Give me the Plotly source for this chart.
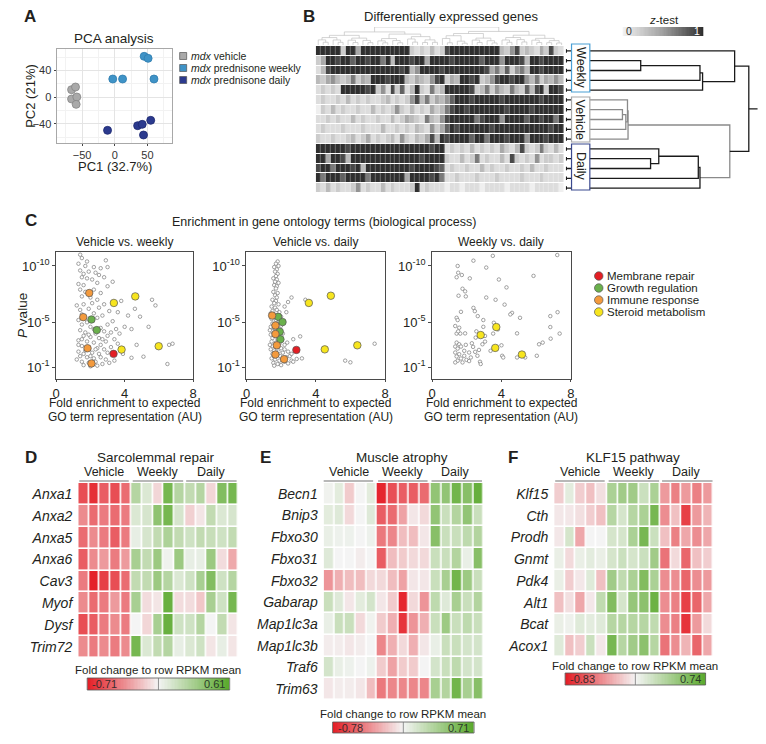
import plotly.graph_objects as go

W, H = 766, 744
OFF = 8  # the page body adds an 8 px margin; the figure is shifted by it
FW, FH = W - OFF, H - OFF
FONT = "Liberation Sans, Arial, Helvetica, sans-serif"
INK = "#231f20"

# ---------------- Panel A : PCA ----------------
vehicle_pc1 = [-66, -60, -66, -58, -59]
vehicle_pc2 = [11, 15, -3, 0, -11]
weekly_pc1 = [45, 51, -3, 12, 60]
weekly_pc2 = [61, 58, 27, 27, 27]
daily_pc1 = [-11, 35, 42, 55, 44]
daily_pc2 = [-50, -43, -41, -35, -57]
pca_labels = ["<i>mdx</i> vehicle", "<i>mdx</i> prednisone weekly", "<i>mdx</i> prednisone daily"]

# ---------------- Panel B : DEG heatmap (z-test, 0-9 => 0-1) ----------------
deg_groups = ["Weekly", "Vehicle", "Daily"]
deg_digits = [
    "9 9 9 9 9 2 9 9 4 9 9 9 9 9 9 9 9 9 9 2 1 2 1 3 1 2 8 9 9 9 9 9 9 9 9 9 9 3 2 5 8 2 3 2 1 4 2 8 2 1",
    "2 4 9 9 8 9 9 7 9 9 8 9 9 6 9 3 9 9 9 8 9 9 4 9 9 9 9 8 9 9 9 9 9 7 9 9 9 5 9 9 9 8 3 9 9 8 9 9 9 9",
    "1 3 8 9 9 9 9 9 9 9 9 9 9 9 9 9 9 8 9 3 5 9 9 9 9 8 9 9 9 9 9 9 9 9 8 4 6 3 7 2 5 6 3 9 9 8 9 9 9 9",
    "3 2 4 5 3 2 3 6 2 4 3 9 9 9 8 9 9 9 3 2 4 3 2 5 8 9 2 4 3 9 9 8 9 2 3 5 8 9 9 8 9 9 5 3 6 2 4 3 5 3",
    "1 2 1 2 1 9 9 9 9 9 8 9 2 5 1 8 2 7 1 3 9 2 1 6 2 3 9 9 9 9 9 8 2 3 6 2 5 3 2 6 3 2 7 3 8 9 2 9 9 8",
    "1 2 1 1 2 1 3 1 2 1 2 1 1 2 3 1 2 1 2 5 8 3 6 2 4 3 5 7 9 9 9 8 9 9 9 9 9 8 9 9 9 9 9 9 9 8 9 9 9 9",
    "0 2 1 3 1 2 1 1 2 1 1 3 1 2 1 2 5 2 1 3 1 2 1 4 2 3 6 8 9 9 8 9 9 9 9 9 9 9 8 9 9 9 9 8 9 9 9 9 9 9",
    "1 1 2 1 2 1 1 3 1 2 1 1 2 1 1 3 1 2 4 3 2 1 6 3 2 5 8 9 9 9 9 9 6 8 9 9 9 5 9 9 9 9 7 9 9 8 9 9 6 9",
    "1 2 1 1 1 2 1 1 1 2 1 1 1 3 1 1 2 1 2 1 3 2 1 5 2 4 7 9 8 9 9 9 9 9 9 8 9 9 9 9 9 9 9 9 9 9 9 8 9 9",
    "2 1 1 2 1 1 2 3 1 2 4 1 2 1 2 3 1 5 2 1 3 2 4 8 3 9 8 9 9 9 9 7 9 9 6 9 9 9 8 9 9 9 5 9 9 9 8 9 9 9",
    "9 9 9 9 9 9 8 9 9 9 9 9 9 9 9 9 9 9 9 9 9 9 9 8 9 9 1 2 1 2 1 3 1 2 1 2 1 4 2 1 3 8 2 1 2 6 2 1 3 1",
    "9 9 4 9 9 8 3 9 9 9 9 9 9 9 9 9 9 9 9 9 9 8 9 9 9 9 2 1 1 3 1 2 6 1 2 1 1 3 1 8 2 1 2 1 5 1 2 2 1 2",
    "8 9 9 6 9 9 9 8 9 3 9 9 9 9 9 9 9 9 9 8 9 9 9 9 8 7 1 2 1 1 2 1 1 3 1 2 1 1 2 1 1 2 1 3 1 1 2 1 1 1",
    "9 6 9 9 9 7 9 9 9 9 6 9 9 9 9 9 9 9 4 9 9 9 9 8 9 6 1 1 2 1 1 1 2 1 1 1 2 1 1 1 1 2 1 1 1 2 1 1 1 1",
    "2 1 3 1 2 1 1 2 5 1 2 1 1 3 1 2 1 1 1 2 9 1 2 1 1 1 0 1 1 0 1 1 1 0 1 1 1 1 0 1 1 1 1 0 1 1 1 1 1 0",
]
# sample dendrogram linkage: (node a, node b, merge distance); merge k creates node 15+k
row_linkage = [
    (1, 2, 0.372), (15, 3, 0.690), (16, 4, 0.704), (17, 0, 0.876),
    (6, 7, 0.274), (19, 8, 0.292), (20, 5, 0.301), (21, 9, 0.304),
    (11, 12, 0.425), (23, 10, 0.469), (24, 13, 0.681), (25, 14, 0.690),
    (22, 26, 0.850), (18, 27, 0.952),
]
row_linkage_grey = [False, False, False, False, True, True, True, True,
                    False, False, False, False, True, False]

# ---------------- Panel C : GO enrichment (x = fold enrichment, y = -log10 P) ----------------
go_categories = ["Membrane repair", "Growth regulation", "Immune response", "Steroid metabolism"]
go_colors = ["#e31e24", "#6ab04c", "#f39a3d", "#f7e51e"]

c1_grey = [(1.4,11.0),(1.5,10.7),(1.8,10.4),(2.9,10.5),(1.3,10.2),(1.7,10.0),(2.2,9.9),(2.6,9.8),(3.0,9.9),
    (1.4,9.6),(1.6,9.3),(1.9,9.5),(2.3,9.4),(2.5,9.2),(1.5,9.0),(1.8,8.9),(2.1,8.8),(2.8,9.0),(3.3,8.6),
    (1.3,8.4),(1.6,8.3),(2.4,8.5),(3.0,8.2),(1.4,7.9),(1.7,7.7),(2.2,7.9),(2.6,7.6),(1.5,7.3),(2.0,7.2),
    (2.4,7.0),(1.2,6.5),(1.6,6.6),(2.1,6.7),(2.8,6.6),(3.8,6.9),(5.6,7.0),(5.8,6.5),(1.4,6.1),(1.9,6.2),
    (2.5,6.3),(3.1,6.0),(4.6,6.2),(1.5,5.7),(2.2,5.8),(2.7,5.6),(3.6,5.9),(4.2,5.6),(1.3,5.2),(1.8,5.0),
    (2.4,5.4),(3.3,5.1),(4.9,5.5),(1.5,4.8),(2.0,4.6),(2.6,4.5),(3.0,4.8),(3.5,4.4),(4.0,4.6),(5.4,4.6),
    (1.4,4.3),(1.7,4.1),(2.3,4.0),(2.8,4.2),(3.2,4.1),(3.7,4.0),(4.4,4.4),(1.6,3.8),(2.0,3.7),(2.5,3.6),
    (3.0,3.8),(3.4,3.5),(1.3,3.4),(1.8,3.3),(2.2,3.2),(2.6,3.0),(2.9,3.3),(3.6,3.1),(4.7,3.0),(6.6,3.0),
    (6.8,3.1),(1.5,2.9),(1.9,2.8),(2.4,2.7),(2.8,2.6),(3.2,2.8),(1.3,2.4),(1.7,2.5),(2.1,2.3),(2.5,2.2),
    (3.0,2.3),(3.9,2.2),(4.4,1.85),(5.1,1.95),(1.4,2.0),(1.8,1.9),(2.2,1.8),(2.6,1.9),(2.9,1.7),(3.4,1.6),
    (6.5,1.3),(1.5,1.5),(1.9,1.4),(2.3,1.5),(2.7,1.3),(3.1,1.4),(1.6,1.2),(2.0,1.1),(2.4,1.15),(1.2,1.7),
    (1.3,3.0),(1.6,2.2),(2.0,2.0),(2.3,2.6),(2.7,3.5),(1.9,3.9),(2.2,4.4),(1.5,3.5)]
c1_hits = [  # (fold, -log10 P, category index)
    (1.93,7.6,2),(1.58,5.46,2),(1.83,2.7,2),(2.06,1.35,2),(2.06,5.25,1),(2.37,4.31,1),
    (3.37,6.72,3),(4.62,7.3,3),(3.82,2.58,3),(5.99,2.88,3),(3.35,2.2,0)]

c2_grey = [(1.8,10.4),(1.7,10.2),(1.85,10.0),(1.6,9.9),(1.75,9.7),(1.65,9.5),(1.8,9.3),(1.7,9.1),(1.55,8.9),
    (1.75,8.8),(1.65,8.6),(1.85,8.5),(1.6,8.3),(1.75,8.2),(1.7,8.0),(1.55,7.7),(1.8,7.6),(1.65,7.4),(1.75,7.2),
    (1.5,7.0),(1.7,6.9),(1.6,6.7),(1.85,6.6),(1.45,6.4),(1.65,6.3),(1.75,6.1),(1.5,6.0),(1.9,5.9),(1.4,5.8),
    (1.6,5.7),(1.8,5.6),(2.0,5.5),(1.45,5.3),(1.7,5.2),(1.9,5.1),(1.5,4.9),(1.75,4.8),(2.0,4.7),(1.4,4.6),
    (1.6,4.5),(1.85,4.4),(1.5,4.2),(1.7,4.1),(2.1,4.0),(1.4,3.9),(1.65,3.8),(1.9,3.7),(1.5,3.6),(1.8,3.5),
    (2.0,3.4),(1.45,3.3),(1.7,3.2),(1.9,3.1),(2.2,3.0),(1.5,2.9),(1.75,2.8),(2.0,2.7),(1.4,2.6),(1.6,2.5),
    (1.85,2.4),(2.1,2.3),(1.5,2.2),(1.7,2.1),(1.95,2.0),(2.3,1.9),(1.45,1.8),(1.65,1.7),(1.9,1.6),(2.2,1.5),
    (1.55,1.4),(1.8,1.3),(2.0,1.2),(1.6,1.15),(2.4,1.35),(2.6,1.6),(2.5,2.0),(2.7,1.5),(2.9,1.75),(2.4,2.4),
    (2.6,7.2),(2.4,6.8),(2.2,6.4),(3.4,7.0),(2.3,5.9),(2.7,3.5),(3.1,3.75),(2.6,2.2),(3.2,1.8),(5.7,1.6),
    (6.0,1.45),(7.4,3.1),(2.2,2.6),(2.35,3.2),(1.35,4.3),(1.35,3.0)]
c2_hits = [
    (1.48,5.6,2),(1.67,4.72,2),(1.67,3.96,2),(1.75,2.96,2),(1.67,2.14,2),(2.17,1.73,2),
    (1.83,5.49,1),(2.08,5.02,1),(1.92,4.17,1),(1.96,3.49,1),
    (2.88,2.55,0),(3.6,6.72,3),(4.87,7.36,3),(4.52,2.6,3),(6.4,2.96,3)]

c3_grey = [(1.47,10.0),(1.5,9.4),(1.41,9.0),(1.71,9.2),(2.17,8.9),(2.38,10.47),(3.5,10.9),(3.12,9.86),
    (5.85,9.12),(7.22,10.97),(3.85,8.8),(4.29,8.1),(1.75,7.98),(1.9,7.75),(1.52,7.36),(1.94,7.3),(3.12,7.2),
    (3.66,7.0),(4.18,6.57),(1.66,5.93),(2.38,6.28),(2.46,5.99),(2.63,5.55),(2.95,5.2),(4.61,5.84),(4.51,5.7),
    (5.07,5.4),(6.82,5.55),(7.24,5.9),(6.82,4.58),(6.84,3.55),(7.36,4.0),(4.9,4.02),(1.41,5.4),(1.47,5.2),
    (1.33,4.67),(1.56,4.52),(1.41,4.0),(1.62,4.0),(1.5,4.2),(2.55,4.2),(2.95,4.6),(3.52,4.0),(3.56,4.96),
    (3.79,4.37),(2.51,3.64),(3.05,3.79),(2.9,3.05),(2.29,3.14),(2.36,2.82),(1.94,3.0),(1.41,3.2),(1.56,3.05),
    (1.33,2.85),(1.47,2.67),(1.66,2.85),(1.85,2.47),(2.13,2.32),(2.48,2.38),(2.7,2.55),(1.33,2.32),(1.56,2.17),
    (1.41,1.97),(1.66,1.79),(1.85,2.03),(1.98,1.67),(2.23,1.88),(2.61,2.03),(2.76,1.5),(2.8,1.3),(1.47,1.59),
    (1.75,1.44),(1.33,1.44),(2.13,1.56),(3.37,2.47),(4.04,2.03),(4.1,1.88),(4.9,1.88),(5.37,1.88),(6.04,2.03),
    (6.17,3.05),(6.38,3.2),(4.0,2.96),(3.05,3.29),(1.9,4.02)]
c3_hits = [(2.8,3.87,3),(3.7,4.58,3),(3.64,2.73,3),(5.18,2.14,3)]

# ---------------- Panels D, E, F : fold change to row RPKM mean ----------------
sample_groups = ["Vehicle", "Weekly", "Daily"]
d_genes = ["Anxa1", "Anxa2", "Anxa5", "Anxa6", "Cav3", "Myof", "Dysf", "Trim72"]
d_values = [
    [-0.55,-0.65,-0.50,-0.55,-0.45, 0.25,0.10,-0.10,0.50,0.25, 0.20,0.25,-0.10,0.45,0.50],
    [-0.35,-0.45,-0.40,-0.45,-0.40, 0.10,0.12,0.40,0.50,0.12, -0.12,-0.05,0.20,0.10,0.12],
    [-0.45,-0.35,-0.40,-0.50,-0.40, 0.05,0.12,0.20,0.28,0.20, 0.15,0.20,0.18,0.15,0.20],
    [-0.50,-0.35,-0.30,-0.40,-0.30, 0.30,0.20,0.35,0.02,0.35, 0.05,0.05,0.35,-0.08,-0.25],
    [-0.40,-0.70,-0.60,-0.55,-0.45, 0.20,0.20,0.35,0.25,0.10, 0.15,0.30,0.45,0.15,0.25],
    [-0.35,-0.45,-0.40,-0.30,-0.40, 0.30,-0.08,-0.05,0.55,-0.08, -0.08,-0.15,0.30,0.15,0.50],
    [-0.55,-0.50,-0.40,-0.35,-0.40, 0.00,-0.10,0.30,0.55,0.15, 0.15,0.25,0.00,0.20,-0.05],
    [-0.35,-0.40,-0.35,-0.40,-0.35, 0.50,0.10,0.20,0.25,0.05, 0.10,0.15,-0.05,0.05,-0.05],
]
d_range = (-0.71, 0.61)

e_genes = ["Becn1", "Bnip3", "Fbxo30", "Fbxo31", "Fbxo32", "Gabarap", "Map1lc3a", "Map1lc3b", "Traf6", "Trim63"]
e_values = [
    [0.02,0.08,-0.15,0.00,0.08, -0.75,-0.60,-0.55,-0.55,-0.50, 0.45,0.45,0.60,0.50,0.65],
    [0.08,0.10,-0.10,0.00,0.10, -0.55,-0.50,-0.30,-0.05,-0.10, 0.45,0.20,0.30,0.45,0.20],
    [0.05,0.03,0.03,0.00,0.03, -0.45,-0.40,-0.20,-0.20,-0.05, 0.50,0.20,0.20,0.25,0.30],
    [0.10,0.00,0.00,-0.03,0.00, -0.55,-0.20,-0.15,-0.10,-0.10, 0.20,0.20,0.30,0.05,0.50],
    [-0.35,-0.25,-0.20,-0.20,-0.10, -0.10,-0.20,-0.30,-0.05,-0.05, 0.20,0.35,0.60,0.40,0.20],
    [0.20,0.10,-0.05,0.08,0.15, -0.05,-0.15,-0.75,-0.10,-0.35, 0.25,0.10,0.35,0.20,0.30],
    [0.05,0.20,0.20,-0.10,0.02, -0.15,-0.25,-0.70,-0.35,-0.25, 0.20,0.40,0.20,0.25,0.20],
    [-0.03,-0.03,-0.05,-0.03,0.00, -0.40,-0.25,-0.10,-0.25,-0.05, 0.05,0.20,0.20,0.15,0.15],
    [0.15,0.05,0.03,0.00,0.03, -0.15,-0.30,-0.15,-0.15,0.00, 0.15,0.20,0.25,0.15,0.15],
    [-0.05,-0.03,-0.03,-0.05,-0.20, -0.45,-0.40,-0.40,-0.40,-0.40, 0.35,0.30,0.60,0.35,0.50],
]
e_range = (-0.78, 0.71)

f_genes = ["Klf15", "Cth", "Prodh", "Gnmt", "Pdk4", "Alt1", "Bcat", "Acox1"]
f_values = [
    [-0.15,0.08,-0.15,-0.20,-0.08, 0.35,0.40,0.40,0.20,0.35, -0.35,-0.45,-0.35,-0.45,-0.35],
    [-0.05,-0.05,-0.08,-0.15,-0.20, 0.30,0.15,0.30,0.35,0.60, -0.40,-0.20,-0.70,-0.35,-0.25],
    [-0.05,0.15,-0.30,0.00,0.00, 0.15,0.15,0.35,0.60,0.20, -0.20,-0.45,-0.30,-0.40,-0.30],
    [0.05,-0.10,0.05,0.08,0.05, 0.15,0.20,0.15,0.20,0.40, -0.50,-0.10,-0.55,-0.20,-0.15],
    [0.05,-0.15,-0.05,0.10,-0.20, 0.40,0.25,0.35,0.55,0.35, -0.40,-0.40,-0.55,-0.40,-0.35],
    [-0.20,-0.08,-0.30,-0.05,0.25, 0.55,0.15,0.45,0.50,0.65, -0.40,-0.45,-0.70,-0.55,-0.30],
    [0.05,0.03,0.10,0.08,0.10, 0.30,0.30,0.30,0.30,0.25, -0.40,-0.45,-0.75,-0.35,-0.10],
    [0.10,-0.20,-0.15,0.20,-0.05, 0.60,0.30,0.40,0.50,0.30, -0.50,-0.40,-0.25,-0.55,-0.30],
]
f_range = (-0.83, 0.74)

RED, MID, GREEN = "#e41e26", "#f4f4f4", "#5aa92c"

# =====================================================================
fig = go.Figure()
layout = {}
count = [0]
annotations = []
shapes = []


def fx(px):
    return (px - OFF) / FW


def fy(py):
    return 1 - (py - OFF) / FH


def axes(px0, px1, py0, py1, xa, ya):
    count[0] += 1
    k = count[0]
    s = "" if k == 1 else str(k)
    xd = dict(domain=[max(0.0, fx(px0)), min(1.0, fx(px1))], anchor="y" + s)
    yd = dict(domain=[max(0.0, fy(py1)), min(1.0, fy(py0))], anchor="x" + s)
    xd.update(xa)
    yd.update(ya)
    layout["xaxis" + s] = xd
    layout["yaxis" + s] = yd
    return "x" + s, "y" + s


def hidden(**kw):
    d = dict(visible=False, showgrid=False, zeroline=False, fixedrange=True)
    d.update(kw)
    return d


def text(x, y, s, size=12, anchor="center", angle=0, color=INK, yanchor="middle"):
    annotations.append(dict(x=fx(x), y=fy(y), xref="paper", yref="paper", text=s,
                            showarrow=False, xanchor=anchor, yanchor=yanchor, textangle=angle,
                            font=dict(family=FONT, size=size, color=color)))


def rect(x0, y0, x1, y1, line="#999", width=1, fill=None):
    shapes.append(dict(type="rect", xref="paper", yref="paper", x0=fx(x0), x1=fx(x1),
                       y0=fy(y1), y1=fy(y0), line=dict(color=line, width=width),
                       fillcolor=fill if fill else "rgba(0,0,0,0)", layer="above"))


def hline(x0, x1, y, color="#999", width=1.5):
    shapes.append(dict(type="line", xref="paper", yref="paper", x0=fx(x0), x1=fx(x1),
                       y0=fy(y), y1=fy(y), line=dict(color=color, width=width)))


def vline(x, y0, y1, color="#444", width=1):
    shapes.append(dict(type="line", xref="paper", yref="paper", x0=fx(x), x1=fx(x),
                       y0=fy(y0), y1=fy(y1), line=dict(color=color, width=width), layer="above"))


# ---------------- Panel A ----------------
text(26, 17, "<b>A</b>", size=17)
text(111, 38, "PCA analysis", size=13.5)
ax, ay = axes(53, 170, 49, 143,
              dict(range=[-89, 88], tick0=0, dtick=50, showgrid=True, gridcolor="#e4e4e4",
                   minor=dict(tick0=0, dtick=25, showgrid=True, gridcolor="#f2f2f2"),
                   zeroline=False, showline=True, mirror=True, linecolor="#a8a8a8",
                   ticks="outside", ticklen=2, tickcolor="#444",
                   tickfont=dict(family=FONT, size=11, color="#333")),
              dict(range=[-69, 72], tick0=0, dtick=40, showgrid=True, gridcolor="#e4e4e4",
                   minor=dict(tick0=0, dtick=20, showgrid=True, gridcolor="#f2f2f2"),
                   zeroline=False, showline=True, mirror=True, linecolor="#a8a8a8",
                   ticks="outside", ticklen=2, tickcolor="#444",
                   tickfont=dict(family=FONT, size=11, color="#333")))
pca_style = [("#a9a9a9", "#858585"), ("#3f93c7", "#2e7cae"), ("#2b3a8e", "#1d2870")]
for (xs, ys), (fc, lc) in zip([(vehicle_pc1, vehicle_pc2), (weekly_pc1, weekly_pc2), (daily_pc1, daily_pc2)], pca_style):
    fig.add_trace(go.Scatter(x=xs, y=ys, mode="markers", xaxis=ax, yaxis=ay, showlegend=False,
                             hoverinfo="skip", marker=dict(size=8, color=fc, line=dict(color=lc, width=0.8))))
text(112, 166, "PC1 (32.7%)", size=13)
text(27, 96, "PC2 (21%)", size=13, angle=-90)

# ---------------- Panel B ----------------
text(308, 16, "<b>B</b>", size=17)
text(452, 16, "Differentially expressed genes", size=13)
deg_z = [[int(d) / 9 for d in row.split()] for row in deg_digits]
ncol = len(deg_z[0])
bx, by = axes(315, 566, 46, 193, hidden(range=[-0.5, ncol - 0.5]), hidden(range=[14.5, -0.5]))
fig.add_trace(go.Heatmap(z=deg_z, x=list(range(ncol)), y=list(range(15)), zmin=0, zmax=1,
                         colorscale=[[0, "#efefef"], [0.5, "#a0a0a0"], [1, "#2f2f2f"]],
                         showscale=False, ygap=1, xgap=0.3, xaxis=bx, yaxis=by, hoverinfo="skip"))

# column dendrogram computed from the heatmap columns
col_segx, col_segy = [], []


def col_tree(lo, hi):
    if hi - lo == 1:
        return float(lo), 0.0
    mid = (lo + hi) // 2
    xl, hl = col_tree(lo, mid)
    xr, hr = col_tree(mid, hi)
    diff = 0.0
    for row in deg_z:
        a = sum(row[lo:mid]) / (mid - lo)
        b = sum(row[mid:hi]) / (hi - mid)
        diff += abs(a - b)
    diff /= len(deg_z)
    h = max(hl, hr) + 0.25 + diff
    col_segx.extend([xl, xl, xr, xr, None])
    col_segy.extend([hl, h, h, hr, None])
    return (xl + xr) / 2, h


_, top_h = col_tree(0, ncol)
tx, ty = axes(315, 566, 27, 45, hidden(range=[-0.5, ncol - 0.5]), hidden(range=[0, top_h]))
fig.add_trace(go.Scatter(x=col_segx, y=col_segy, mode="lines", line=dict(color="#c2c2c2", width=0.7),
                         xaxis=tx, yaxis=ty, showlegend=False, hoverinfo="skip"))

# row dendrogram
rx, ry = axes(567.7, 761.7, 46, 193, hidden(range=[-0.03, 1.0]), hidden(range=[14.5, -0.5]))
pos = {i: (0.0, float(i)) for i in range(15)}
seg = {True: ([], []), False: ([], [])}
for k, (a, b, h) in enumerate(row_linkage):
    grey = row_linkage_grey[k]
    xa_, ya_ = pos[a]
    xb_, yb_ = pos[b]
    sx, sy = seg[grey]
    sx.extend([xa_, h, h, xb_, None])
    sy.extend([ya_, ya_, yb_, yb_, None])
    pos[15 + k] = (h, (ya_ + yb_) / 2)
root_h, root_y = pos[15 + len(row_linkage) - 1]
seg[False][0].extend([root_h, 1.0, None])
seg[False][1].extend([root_y, root_y, None])
for i in range(15):
    seg[False][0].extend([-0.027, 0.0, None, -0.027, -0.027, None])
    seg[False][1].extend([i, i, None, i - 0.18, i + 0.18, None])
for grey, colr in [(True, "#8a8a8a"), (False, "#1a1a1a")]:
    fig.add_trace(go.Scatter(x=seg[grey][0], y=seg[grey][1], mode="lines", line=dict(color=colr, width=1.3),
                             xaxis=rx, yaxis=ry, showlegend=False, hoverinfo="skip"))
box_cols = ["#4a9fd4", "#a8a8a8", "#3b4a8f"]
box_y = [(44, 92), (97, 142), (144, 190)]
for g, (y0, y1), c in zip(deg_groups, box_y, box_cols):
    rect(573.5, y0, 592, y1, line=c, width=1.2, fill="white")
    text(583, (y0 + y1) / 2, g, size=12.5, angle=90)

# z-test key
text(667, 20, "<i>z</i>-test", size=11.5)
key_vals = [i / 59 for i in range(60)]
kx, ky = axes(625, 707, 27, 36, hidden(range=[-0.5, 59.5]), hidden(range=[-0.5, 0.5]))
fig.add_trace(go.Heatmap(z=[key_vals], zmin=0, zmax=1, colorscale=[[0, "#f1f1f1"], [0.5, "#a0a0a0"], [1, "#2f2f2f"]],
                         showscale=False, xaxis=kx, yaxis=ky, hoverinfo="skip"))
text(632, 31.5, "0", size=10.5, color="#333")
text(700, 31.5, "1", size=10.5, color="white")

# ---------------- Panel C ----------------
text(27, 220, "<b>C</b>", size=17)
text(323, 222, "Enrichment in gene ontology terms (biological process)", size=12.5)
c_titles = ["Vehicle vs. weekly", "Vehicle vs. daily", "Weekly vs. daily"]
c_boxes = [(52.7, 191), (245, 385), (432.7, 572.7)]
c_grey_sets = [c1_grey, c2_grey, c3_grey]
c_hit_sets = [c1_hits, c2_hits, c3_hits]
for i in range(3):
    x0, x1 = c_boxes[i]
    cx, cy = axes(x0, x1, 252, 379,
                  dict(range=[0, 8], tickvals=[0, 4, 8], showgrid=False, zeroline=False, showline=True,
                       mirror=True, linecolor="#4a4a4a", linewidth=1, ticks="outside", ticklen=2,
                       tickcolor="#4a4a4a", tickfont=dict(family=FONT, size=13, color=INK), fixedrange=True),
                  dict(range=[-0.03, 11.24], tickvals=[1, 5, 10],
                       ticktext=["10<sup>-1</sup>", "10<sup>-5</sup>", "10<sup>-10</sup>"],
                       showgrid=False, zeroline=False, showline=True, mirror=True, linecolor="#4a4a4a",
                       linewidth=1, ticks="outside", ticklen=3, tickcolor="#4a4a4a",
                       tickfont=dict(family=FONT, size=13, color=INK), fixedrange=True))
    gx = [p[0] for p in c_grey_sets[i]]
    gy = [p[1] for p in c_grey_sets[i]]
    fig.add_trace(go.Scatter(x=gx, y=gy, mode="markers", xaxis=cx, yaxis=cy, showlegend=False, hoverinfo="skip",
                             marker=dict(size=3.5, color="white", line=dict(color="#7a7a7a", width=0.7))))
    for ci in range(4):
        pts = [p for p in c_hit_sets[i] if p[2] == ci]
        if pts:
            fig.add_trace(go.Scatter(x=[p[0] for p in pts], y=[p[1] for p in pts], mode="markers",
                                     xaxis=cx, yaxis=cy, showlegend=False, hoverinfo="skip",
                                     marker=dict(size=7.5, color=go_colors[ci], line=dict(color="#555", width=0.7))))
    mid = (x0 + x1) / 2
    text(mid, 242, c_titles[i], size=12)
    text(mid, 403, "Fold enrichment to expected", size=12)
    text(mid, 417, "GO term representation (AU)", size=12)
text(18, 315, "<i>P</i> value", size=13.5, angle=-90)

# ---------------- Panels D, E, F ----------------


def gene_heatmap(letter, lx, title, tx_, genes, vals, zr, x0, x1, y0, y1, grp_c, grp_lines, key):
    text(lx, 457, "<b>%s</b>" % letter, size=17)
    text(tx_, 457, title, size=13.5)
    for g, c, (u0, u1) in zip(sample_groups, grp_c, grp_lines):
        text(c, 472, g, size=12.5)
        hline(u0, u1, 481, color="#a0a0a0", width=1.6)
    zmin, zmax = zr
    m = -zmin / (zmax - zmin)
    cs = [[0, RED], [m, MID], [1, GREEN]]
    n = len(genes)
    hx, hy = axes(x0, x1, y0, y1, hidden(range=[-0.5, 14.5]),
                  dict(range=[n - 0.5, -0.5], tickvals=list(range(n)), ticktext=["<i>%s</i>" % g for g in genes],
                       showgrid=False, zeroline=False, showline=False, ticks="", ticklabelstandoff=5,
                       tickfont=dict(family=FONT, size=14, color=INK), fixedrange=True))
    fig.add_trace(go.Heatmap(z=vals, x=list(range(15)), y=list(range(n)), zmin=zmin, zmax=zmax, colorscale=cs,
                             showscale=False, xgap=1.6, ygap=1.6, xaxis=hx, yaxis=hy, hoverinfo="skip"))
    # colour key
    kx0, kx1, ky0, ky1, lab_y = key
    text((kx0 + kx1) / 2, lab_y, "Fold change to row RPKM mean", size=11.5)
    kv = [-1 + 2 * j / 99 for j in range(100)]
    qx, qy = axes(kx0, kx1, ky0, ky1, hidden(range=[-0.5, 99.5]), hidden(range=[-0.5, 0.5]))
    fig.add_trace(go.Heatmap(z=[kv], zmin=-1, zmax=1, colorscale=[[0, RED], [0.5, MID], [1, GREEN]],
                             showscale=False, xaxis=qx, yaxis=qy, hoverinfo="skip"))
    rect(kx0, ky0, kx1, ky1, line="#555", width=0.8)
    vline((kx0 + kx1) / 2, ky0, ky1, color="#777", width=0.8)
    text(kx0 + 3, (ky0 + ky1) / 2, "%.2f" % zmin, size=11, anchor="left", color="#3a2a2a")
    text(kx1 - 3, (ky0 + ky1) / 2, "%.2f" % zmax, size=11, anchor="right", color="#2a3a2a")


gene_heatmap("D", 27, "Sarcolemmal repair", 154, d_genes, d_values, d_range, 75, 237, 483, 658,
             [101, 156, 210], [(76, 126), (130, 181), (184, 235)], (84, 228, 678, 690, 670))
gene_heatmap("E", 264, "Muscle atrophy", 402, e_genes, e_values, e_range, 323, 485, 483, 700,
             [349, 403, 456], [(323, 373), (378, 428), (432, 483)], (332, 475, 722, 733, 714))
gene_heatmap("F", 514, "KLF15 pathway", 636, f_genes, f_values, f_range, 556, 717, 483, 657,
             [582, 637, 690], [(557, 607), (611, 662), (665, 716)], (567, 709, 673, 685, 666))

# ---------------- legends (overlay in pixel space) ----------------
ox, oy = axes(OFF, W, OFF, H, hidden(range=[OFF, W]), hidden(range=[H, OFF]))
leg_a_y = [56, 68, 80]
for lab, yy, (fc, lc) in zip(pca_labels, leg_a_y, pca_style):
    fig.add_trace(go.Scatter(x=[181], y=[yy], mode="markers", xaxis=ox, yaxis=oy, showlegend=False,
                             hoverinfo="skip", marker=dict(symbol="square", size=7, color=fc, line=dict(color="#555", width=0.7))))
    text(187, yy, lab, size=10.5, anchor="left")
leg_c_y = [276, 288, 300, 312]
for lab, yy, col in zip(go_categories, leg_c_y, go_colors):
    fig.add_trace(go.Scatter(x=[601], y=[yy], mode="markers", xaxis=ox, yaxis=oy, showlegend=False,
                             hoverinfo="skip", marker=dict(size=8.5, color=col, line=dict(color="#555", width=0.7))))
    text(607, yy, lab, size=11.5, anchor="left")

layout.update(dict(width=FW, height=FH, margin=dict(l=0, r=0, t=0, b=0), paper_bgcolor="white",
                   plot_bgcolor="rgba(0,0,0,0)", showlegend=False, annotations=annotations, shapes=shapes,
                   font=dict(family=FONT, color=INK)))
fig.update_layout(**layout)
fig.write_html("out.html")
